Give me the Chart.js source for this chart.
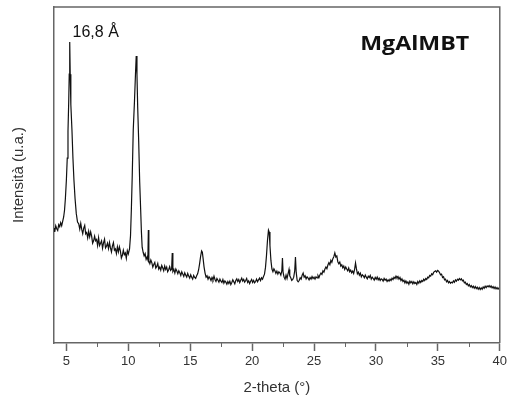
<!DOCTYPE html>
<html>
<head>
<meta charset="utf-8">
<script src="https://cdn.jsdelivr.net/npm/chart.js@4"></script>
<style>
  html, body { margin: 0; padding: 0; background: #fff; }
  #wrap { width: 510px; height: 397px; }
</style>
</head>
<body>
<div id="wrap"><canvas id="xrd"></canvas></div>
<script>
// XRD pattern MgAlMBT (intensity in arbitrary units, 0–100 plot scale)
const twoTheta = [
  4.00, 4.06, 4.14, 4.22, 4.30, 4.38, 4.46, 4.54, 4.62, 4.70, 4.78, 4.85, 4.92,
  5.00, 5.07, 5.13, 5.19, 5.23, 5.27, 5.31, 5.36, 5.45, 5.53, 5.61, 5.70, 5.80, 5.90,
  6.00, 6.08, 6.16, 6.24, 6.32, 6.40, 6.48, 6.56, 6.64, 6.72, 6.80, 6.88, 6.96,
  7.04, 7.12, 7.20, 7.28, 7.36, 7.44, 7.52, 7.60, 7.68, 7.76, 7.84, 7.92,
  8.00, 8.08, 8.16, 8.24, 8.32, 8.40, 8.48, 8.56, 8.64, 8.72, 8.80, 8.88, 8.96,
  9.04, 9.12, 9.20, 9.28, 9.36, 9.44, 9.52, 9.60, 9.68, 9.76, 9.84, 9.92,
  10.00, 10.10, 10.18, 10.25, 10.32, 10.40, 10.50, 10.58, 10.64, 10.70, 10.76, 10.84, 10.92, 11.00, 11.06,
  11.12, 11.20, 11.28, 11.36, 11.44, 11.52, 11.58, 11.62, 11.66, 11.74, 11.82, 11.90, 11.98,
  12.06, 12.14, 12.22, 12.30, 12.38, 12.46, 12.54, 12.62, 12.70, 12.78, 12.86, 12.94,
  13.02, 13.10, 13.18, 13.26, 13.34, 13.42, 13.50, 13.55, 13.60, 13.68, 13.76, 13.84, 13.92,
  14.00, 14.08, 14.16, 14.24, 14.32, 14.40, 14.48, 14.56, 14.64, 14.72, 14.80, 14.88, 14.96,
  15.04, 15.12, 15.20, 15.28, 15.36, 15.44, 15.52, 15.60, 15.68, 15.76, 15.84, 15.92, 15.98,
  16.04, 16.12, 16.20, 16.28, 16.36, 16.44, 16.52, 16.60, 16.68, 16.76, 16.84, 16.92,
  17.00, 17.08, 17.16, 17.24, 17.32, 17.40, 17.48, 17.56, 17.64, 17.72, 17.80, 17.88, 17.96,
  18.04, 18.12, 18.20, 18.28, 18.36, 18.44, 18.52, 18.60, 18.68, 18.76, 18.84, 18.92,
  19.00, 19.08, 19.16, 19.24, 19.32, 19.40, 19.48, 19.56, 19.64, 19.72, 19.80, 19.88, 19.96,
  20.04, 20.12, 20.20, 20.28, 20.36, 20.44, 20.52, 20.60, 20.68, 20.76, 20.84, 20.92,
  21.00, 21.08, 21.16, 21.24, 21.32, 21.38, 21.44, 21.52, 21.60, 21.68, 21.76, 21.84, 21.92,
  22.00, 22.08, 22.16, 22.24, 22.32, 22.40, 22.45, 22.50, 22.58, 22.66, 22.74, 22.82, 22.90, 22.98,
  23.04, 23.12, 23.20, 23.28, 23.36, 23.44, 23.50, 23.56, 23.64, 23.72, 23.80, 23.88, 23.96,
  24.04, 24.12, 24.20, 24.28, 24.36, 24.44, 24.52, 24.60, 24.68, 24.76, 24.84, 24.92,
  25.00, 25.08, 25.16, 25.24, 25.32, 25.40, 25.48, 25.56, 25.64, 25.72, 25.80, 25.88, 25.96,
  26.04, 26.12, 26.20, 26.28, 26.36, 26.44, 26.52, 26.60, 26.68, 26.76, 26.84, 26.92,
  27.00, 27.08, 27.16, 27.24, 27.32, 27.40, 27.48, 27.56, 27.64, 27.72, 27.80, 27.88, 27.96,
  28.04, 28.12, 28.20, 28.28, 28.35, 28.42, 28.50, 28.58, 28.66, 28.74, 28.82, 28.90, 28.98,
  29.06, 29.14, 29.22, 29.30, 29.38, 29.46, 29.54, 29.62, 29.70, 29.78, 29.86, 29.94,
  30.02, 30.10, 30.18, 30.26, 30.34, 30.42, 30.50, 30.58, 30.66, 30.74, 30.82, 30.90, 30.98,
  31.06, 31.14, 31.22, 31.30, 31.38, 31.46, 31.54, 31.62, 31.70, 31.78, 31.86, 31.94,
  32.02, 32.10, 32.18, 32.26, 32.34, 32.42, 32.50, 32.58, 32.66, 32.74, 32.82, 32.90, 32.98,
  33.06, 33.14, 33.22, 33.30, 33.38, 33.46, 33.54, 33.62, 33.70, 33.78, 33.86, 33.94,
  34.02, 34.10, 34.18, 34.26, 34.34, 34.42, 34.50, 34.58, 34.66, 34.74, 34.82, 34.90, 34.98,
  35.06, 35.14, 35.22, 35.30, 35.38, 35.46, 35.54, 35.62, 35.70, 35.78, 35.86, 35.94,
  36.02, 36.10, 36.18, 36.26, 36.34, 36.42, 36.50, 36.58, 36.66, 36.74, 36.82, 36.90, 36.98,
  37.06, 37.14, 37.22, 37.30, 37.38, 37.46, 37.54, 37.62, 37.70, 37.78, 37.86, 37.94,
  38.02, 38.10, 38.18, 38.26, 38.34, 38.42, 38.50, 38.58, 38.66, 38.74, 38.82, 38.90, 38.98,
  39.06, 39.14, 39.22, 39.30, 39.38, 39.46, 39.54, 39.62, 39.70, 39.78, 39.86, 39.94, 40.00
];
const intensity = [
  34.2, 33.1, 34.9, 34.0, 33.5, 35.2, 34.6, 35.8, 34.9, 36.2, 37.5, 39.5, 43.0,
  48.5, 55.0, 63.0, 72.0, 80.0, 89.6, 80.0, 71.0, 63.4, 55.0, 48.5, 43.0, 38.5, 36.0,
  35.4, 33.9, 35.6, 33.8, 32.5, 34.2, 35.0, 32.5, 32.9, 31.3, 33.2, 31.6, 33.1,
  31.8, 29.7, 30.4, 31.8, 30.4, 30.8, 29.0, 31.3, 29.0, 29.7, 30.4, 28.2,
  29.8, 30.9, 28.3, 28.8, 29.7, 28.1, 29.9, 28.3, 27.1, 28.9, 29.9, 27.6, 28.0,
  26.6, 28.6, 27.1, 28.6, 27.4, 25.3, 26.1, 27.6, 26.3, 26.8, 25.2, 27.5,
  26.5, 28.0, 32.0, 40.0, 50.0, 63.4, 72.0, 80.0, 85.4, 80.0, 70.0, 60.0, 48.0, 39.6, 33.0,
  28.5, 27.0, 25.9, 26.6, 24.9, 25.6, 24.8, 33.6, 24.4, 23.6, 24.7, 23.9, 22.6,
  23.4, 24.0, 22.3, 22.8, 23.7, 22.0, 22.6, 21.7, 23.1, 22.4, 21.5, 22.9,
  21.9, 22.6, 21.2, 21.8, 22.7, 21.6, 22.0, 26.8, 21.3, 21.9, 20.8, 22.0, 21.4,
  20.6, 21.5, 20.9, 20.1, 21.2, 20.5, 19.8, 20.9, 20.2, 19.6, 20.7, 19.9, 19.3,
  20.3, 19.6, 19.0, 20.1, 19.5, 19.2, 20.0, 20.6, 21.8, 23.6, 25.8, 27.4, 27.0,
  25.2, 22.6, 20.8, 19.6, 20.0, 19.0, 19.7, 19.3, 18.6, 19.5, 18.8, 19.9,
  18.9, 18.3, 19.2, 18.7, 18.1, 19.0, 18.4, 18.0, 18.9, 17.8, 18.5, 18.1, 17.5,
  18.3, 17.7, 18.4, 17.4, 18.0, 18.8, 18.2, 17.6, 18.6, 19.1, 18.3, 18.9,
  18.0, 18.7, 19.3, 18.4, 18.9, 18.1, 18.6, 19.2, 18.0, 18.5, 17.7, 18.4, 18.9,
  18.0, 18.6, 17.9, 18.3, 19.0, 18.2, 18.8, 19.3, 18.6, 19.4, 19.0, 19.8,
  20.5, 22.5, 26.0, 30.5, 33.6, 33.0, 29.0, 24.5, 22.0, 21.2, 22.1, 21.5, 20.7,
  21.4, 20.5, 21.2, 20.9, 20.2, 21.5, 25.3, 21.0, 19.6, 19.0, 20.2, 19.2, 20.6, 21.9,
  20.0, 19.4, 18.6, 18.9, 19.6, 21.5, 25.6, 21.0, 18.6, 18.2, 18.6, 19.4, 19.0,
  20.2, 20.8, 19.6, 20.0, 19.1, 19.7, 19.3, 18.8, 19.5, 19.0, 19.8, 19.2,
  19.6, 19.0, 19.7, 19.4, 20.1, 19.5, 20.3, 20.8, 20.4, 21.5, 21.1, 22.0, 22.6,
  22.1, 23.2, 23.9, 23.3, 24.6, 24.0, 25.1, 25.7, 26.8, 25.6, 25.9, 24.2,
  23.6, 24.1, 22.9, 23.3, 22.4, 22.9, 21.9, 22.6, 22.0, 21.5, 22.3, 21.2, 21.7,
  20.9, 21.4, 20.7, 22.0, 23.8, 22.2, 20.6, 21.1, 20.2, 20.8, 19.7, 20.3, 20.0,
  19.4, 20.2, 19.6, 19.1, 19.9, 19.5, 20.1, 19.0, 19.6, 19.2, 18.7, 19.5,
  19.0, 19.6, 18.8, 19.3, 18.6, 19.1, 18.9, 18.4, 19.2, 18.7, 19.0, 18.3, 18.8,
  18.4, 19.0, 18.6, 19.3, 18.9, 19.6, 19.2, 19.9, 19.4, 19.8, 19.0, 19.5,
  18.6, 19.1, 18.3, 18.7, 17.9, 18.5, 17.8, 18.2, 17.5, 18.4, 17.9, 18.3, 17.6,
  18.2, 17.7, 18.0, 17.4, 18.3, 17.8, 18.5, 18.0, 18.6, 18.3, 19.0, 18.6,
  19.2, 18.9, 19.6, 19.4, 20.1, 19.9, 20.6, 20.3, 21.0, 21.3, 21.5, 21.1, 21.6,
  21.4, 20.9, 20.3, 20.5, 19.5, 19.7, 18.8, 19.0, 18.2, 18.6, 17.9, 18.3,
  17.8, 18.1, 17.9, 18.5, 18.1, 18.8, 18.4, 19.0, 18.7, 19.2, 18.8, 19.1, 18.5,
  18.7, 17.9, 18.1, 17.4, 17.7, 17.0, 17.4, 16.7, 17.1, 16.5, 16.9, 16.3,
  16.8, 16.2, 16.6, 16.0, 16.5, 15.9, 16.4, 16.0, 16.7, 16.3, 16.9, 16.5, 17.0,
  16.7, 17.1, 16.6, 17.0, 16.4, 16.8, 16.2, 16.7, 16.1, 16.5, 16.0, 16.4, 16.2
];
const majorTicks = [5, 10, 15, 20, 25, 30, 35, 40];
const minorTicks = [7.5, 12.5, 17.5, 22.5, 27.5, 32.5, 37.5];
const peakLabel = "16,8 Å";
const sampleName = "MgAlMBT";

const AX = "#666";
const SANS = "'Liberation Sans', Arial, sans-serif";

// frame (top + right), minor ticks and the two in-plot labels
const extras = {
  id: "extras",
  afterDraw(c, _a, o) {
    const { ctx, chartArea: a, scales: { x, y } } = c;
    ctx.save();
    ctx.strokeStyle = AX; ctx.lineWidth = 1.5;
    ctx.beginPath();
    ctx.moveTo(a.left, a.top); ctx.lineTo(a.right, a.top); ctx.lineTo(a.right, a.bottom);
    ctx.stroke();
    ctx.lineWidth = 1;
    minorTicks.forEach(v => {
      const px = Math.round(x.getPixelForValue(v)) + 0.5;
      ctx.beginPath(); ctx.moveTo(px, a.bottom); ctx.lineTo(px, a.bottom + 4); ctx.stroke();
    });
    ctx.fillStyle = "#111"; ctx.textBaseline = "alphabetic"; ctx.textAlign = "left";
    o.labels.forEach(l => {
      ctx.save();
      ctx.font = l.font;
      ctx.translate(x.getPixelForValue(l.at[0]), y.getPixelForValue(l.at[1]));
      ctx.scale(l.sx || 1, 1);
      ctx.fillText(l.text, 0, 0);
      ctx.restore();
    });
    ctx.restore();
  }
};

new Chart(document.getElementById("xrd"), {
  type: "line",
  data: {
    datasets: [{
      data: twoTheta.map((t, i) => ({ x: t, y: intensity[i] })),
      borderColor: "#111", borderWidth: 1.2, pointRadius: 0, tension: 0, fill: false,
    }]
  },
  options: {
    responsive: true, maintainAspectRatio: false, animation: false,
    layout: { padding: { top: 7, right: 4, left: 0, bottom: 0 } },
    plugins: {
      legend: { display: false }, tooltip: { enabled: false },
      extras: {
        labels: [
          { text: peakLabel, at: [5.5, 91.1], font: "16px " + SANS },
          { text: sampleName, at: [28.73, 87.2], font: "bold 20px 'Open Sans', sans-serif", sx: 1.16 },
        ]
      }
    },
    scales: {
      x: {
        type: "linear", min: 4, max: 40,
        afterBuildTicks: s => { s.ticks = majorTicks.map(v => ({ value: v })); },
        afterFit: s => { s.height = 54; },
        ticks: { color: "#333", font: { family: SANS, size: 13 }, padding: 3, maxRotation: 0, autoSkip: false },
        grid: { display: true, drawOnChartArea: false, drawTicks: true, tickLength: 8, tickColor: AX, tickWidth: 1.5 },
        border: { display: true, color: AX, width: 1.5 },
        title: { display: true, text: "2-theta (°)", color: "#333", font: { family: SANS, size: 15 }, padding: { top: 0, bottom: 0 } },
      },
      y: {
        min: 0, max: 100,
        afterFit: s => { s.width = 54; },
        ticks: { display: false },
        grid: { display: false },
        border: { display: true, color: AX, width: 1.5 },
        title: { display: true, text: "Intensità (u.a.)", color: "#333", font: { family: SANS, size: 15 }, padding: { top: 10, bottom: 0 } },
      }
    }
  },
  plugins: [extras]
});
</script>
</body>
</html>
